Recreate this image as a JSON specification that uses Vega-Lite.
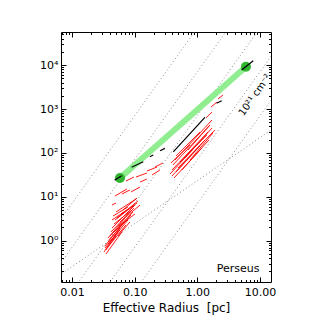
{
  "$schema": "https://vega.github.io/schema/vega-lite/v6.json",
  "width": 210,
  "height": 250,
  "autosize": {"type": "none"},
  "padding": {"left": 61, "top": 32, "right": 54, "bottom": 43},
  "background": "white",
  "config": {
    "view": {"stroke": "#000000", "strokeWidth": 1},
    "font": "DejaVu Sans",
    "axis": {"domain": false, "grid": false, "tickColor": "#000000", "tickWidth": 1, "labelColor": "#000000", "labelFont": "DejaVu Sans", "labelFontSize": 11, "titleFont": "DejaVu Sans", "titleFontSize": 12, "titleFontWeight": "normal", "titleColor": "#000000"}
  },
  "datasets": {
    "grid": [
      {"id": "N24", "r": 0.005, "m": 1.76}, {"id": "N24", "r": 20, "m": 28200000},
      {"id": "N23", "r": 0.005, "m": 0.176}, {"id": "N23", "r": 20, "m": 2820000},
      {"id": "N22", "r": 0.005, "m": 0.0176}, {"id": "N22", "r": 20, "m": 282000},
      {"id": "N21", "r": 0.005, "m": 0.00176}, {"id": "N21", "r": 20, "m": 28200},
      {"id": "N20", "r": 0.005, "m": 0.000176}, {"id": "N20", "r": 20, "m": 2820},
      {"id": "S1", "r": 0.005, "m": 0.13}, {"id": "S1", "r": 20, "m": 440}
    ],
    "red": [
      {"id": "R1", "r": 0.394, "m": 29.8}, {"id": "R1", "r": 1.32, "m": 197},
      {"id": "R2", "r": 0.394, "m": 40.7}, {"id": "R2", "r": 1.48, "m": 299},
      {"id": "R3", "r": 0.408, "m": 53.0}, {"id": "R3", "r": 1.59, "m": 432},
      {"id": "R4", "r": 0.440, "m": 68.9}, {"id": "R4", "r": 1.71, "m": 561},
      {"id": "R5", "r": 0.456, "m": 36.7}, {"id": "R5", "r": 1.10, "m": 144},
      {"id": "R6", "r": 0.491, "m": 45.3}, {"id": "R6", "r": 1.91, "m": 333},
      {"id": "R7", "r": 0.527, "m": 62.1}, {"id": "R7", "r": 1.42, "m": 256},
      {"id": "R8", "r": 0.634, "m": 76.5}, {"id": "R8", "r": 1.71, "m": 369},
      {"id": "R9", "r": 0.379, "m": 58.9}, {"id": "R9", "r": 0.762, "m": 151},
      {"id": "R10", "r": 0.708, "m": 116}, {"id": "R10", "r": 1.59, "m": 432},
      {"id": "R11", "r": 0.366, "m": 33.0}, {"id": "R11", "r": 0.951, "m": 144},
      {"id": "R12", "r": 0.424, "m": 26.8}, {"id": "R12", "r": 1.18, "m": 129},
      {"id": "R13", "r": 0.567, "m": 40.7}, {"id": "R13", "r": 1.53, "m": 197},
      {"id": "R14", "r": 0.762, "m": 68.9}, {"id": "R14", "r": 1.77, "m": 284},
      {"id": "R15", "r": 0.456, "m": 85.0}, {"id": "R15", "r": 1.10, "m": 299},
      {"id": "U1", "r": 1.37, "m": 624}, {"id": "U1", "r": 1.71, "m": 855},
      {"id": "U2", "r": 1.65, "m": 1110}, {"id": "U2", "r": 2.06, "m": 1440},
      {"id": "U3", "r": 2.13, "m": 1690}, {"id": "U3", "r": 2.56, "m": 2080},
      {"id": "U4", "r": 2.75, "m": 3010}, {"id": "U4", "r": 3.44, "m": 4120},
      {"id": "U5", "r": 3.56, "m": 5080}, {"id": "U5", "r": 4.29, "m": 6270},
      {"id": "S1", "r": 0.157, "m": 38.7}, {"id": "S1", "r": 0.227, "m": 47.7},
      {"id": "S2", "r": 0.211, "m": 47.7}, {"id": "S2", "r": 0.282, "m": 58.9},
      {"id": "S3", "r": 0.189, "m": 31.4}, {"id": "S3", "r": 0.253, "m": 40.7},
      {"id": "S4", "r": 0.105, "m": 28.2}, {"id": "S4", "r": 0.157, "m": 34.8},
      {"id": "S5", "r": 0.0726, "m": 22.9}, {"id": "S5", "r": 0.0975, "m": 28.2},
      {"id": "S6", "r": 0.0873, "m": 12.9}, {"id": "S6", "r": 0.122, "m": 16.7},
      {"id": "S7", "r": 0.0485, "m": 10.4}, {"id": "S7", "r": 0.0753, "m": 15.1},
      {"id": "S8", "r": 0.0627, "m": 11.6}, {"id": "S8", "r": 0.0841, "m": 14.3},
      {"id": "S9", "r": 0.0435, "m": 6.50}, {"id": "S9", "r": 0.0504, "m": 7.23},
      {"id": "S10", "r": 0.122, "m": 21.7}, {"id": "S10", "r": 0.157, "m": 25.4},
      {"id": "L1", "r": 0.0348, "m": 0.498}, {"id": "L1", "r": 0.0627, "m": 1.58},
      {"id": "L2", "r": 0.0361, "m": 0.682}, {"id": "L2", "r": 0.0726, "m": 2.28},
      {"id": "L3", "r": 0.0375, "m": 0.841}, {"id": "L3", "r": 0.0782, "m": 2.96},
      {"id": "L4", "r": 0.0389, "m": 1.04}, {"id": "L4", "r": 0.0873, "m": 3.85},
      {"id": "L5", "r": 0.0404, "m": 1.28}, {"id": "L5", "r": 0.0940, "m": 4.51},
      {"id": "L6", "r": 0.0419, "m": 1.58}, {"id": "L6", "r": 0.0975, "m": 5.56},
      {"id": "L7", "r": 0.0435, "m": 1.95}, {"id": "L7", "r": 0.101, "m": 6.50},
      {"id": "L8", "r": 0.0468, "m": 2.40}, {"id": "L8", "r": 0.0906, "m": 5.00},
      {"id": "L9", "r": 0.0485, "m": 2.96}, {"id": "L9", "r": 0.109, "m": 7.23},
      {"id": "L10", "r": 0.0451, "m": 3.65}, {"id": "L10", "r": 0.0782, "m": 5.86},
      {"id": "L11", "r": 0.0504, "m": 4.51}, {"id": "L11", "r": 0.105, "m": 8.91},
      {"id": "L12", "r": 0.0542, "m": 1.28}, {"id": "L12", "r": 0.0841, "m": 2.67},
      {"id": "L13", "r": 0.0562, "m": 2.16}, {"id": "L13", "r": 0.101, "m": 4.06},
      {"id": "L14", "r": 0.0324, "m": 0.553}, {"id": "L14", "r": 0.0583, "m": 1.95},
      {"id": "L15", "r": 0.0336, "m": 0.682}, {"id": "L15", "r": 0.0542, "m": 1.58},
      {"id": "L16", "r": 0.0336, "m": 0.757}, {"id": "L16", "r": 0.0675, "m": 2.67},
      {"id": "L17", "r": 0.0375, "m": 1.15}, {"id": "L17", "r": 0.070, "m": 3.29},
      {"id": "L18", "r": 0.0404, "m": 0.934}, {"id": "L18", "r": 0.0583, "m": 1.75},
      {"id": "L19", "r": 0.0522, "m": 3.29}, {"id": "L19", "r": 0.113, "m": 8.02},
      {"id": "L20", "r": 0.0583, "m": 2.67}, {"id": "L20", "r": 0.122, "m": 6.50},
      {"id": "L21", "r": 0.0604, "m": 4.06}, {"id": "L21", "r": 0.094, "m": 6.17},
      {"id": "L22", "r": 0.0435, "m": 2.96}, {"id": "L22", "r": 0.0675, "m": 4.51},
      {"id": "L23", "r": 0.0348, "m": 0.614}, {"id": "L23", "r": 0.0504, "m": 1.28},
      {"id": "L24", "r": 0.0468, "m": 1.58}, {"id": "L24", "r": 0.0811, "m": 3.29},
      {"id": "L25", "r": 0.065, "m": 5.00}, {"id": "L25", "r": 0.109, "m": 9.39}
    ],
    "green": [
      {"r": 0.0583, "m": 26.8}, {"r": 5.96, "m": 9190}
    ],
    "black": [
      {"id": "B1", "r": 0.048, "m": 24}, {"id": "B1", "r": 0.062, "m": 30},
      {"id": "B2", "r": 0.0895, "m": 47}, {"id": "B2", "r": 0.137, "m": 63},
      {"id": "B3", "r": 0.175, "m": 81.9}, {"id": "B3", "r": 0.198, "m": 89.6},
      {"id": "B4", "r": 0.254, "m": 112}, {"id": "B4", "r": 0.304, "m": 127},
      {"id": "B5", "r": 0.413, "m": 106}, {"id": "B5", "r": 1.32, "m": 647},
      {"id": "B6", "r": 2.03, "m": 1349}, {"id": "B6", "r": 2.44, "m": 1545},
      {"id": "B7", "r": 5.09, "m": 7730}, {"id": "B7", "r": 7.8, "m": 12600}
    ],
    "cloud": [{"text": "Perseus", "r": 9.77, "m": 0.194}],
    "nlabel": [{"text": "10²¹ cm⁻²", "r": 8.3, "m": 2084}]
  },
  "layer": [
    {
      "data": {"name": "grid"},
      "mark": {"type": "line", "clip": true, "color": "#8c8c8c", "strokeWidth": 1, "strokeDash": [1, 2.5]},
      "encoding": {
        "x": {"field": "r", "type": "quantitative", "scale": {"type": "log", "domain": [0.00668, 14.96], "nice": false},
              "axis": {"orient": "bottom", "values": [0.01, 0.1, 1, 10], "format": ".2f", "tickSize": -5, "labelPadding": 9, "title": "Effective Radius\u00a0\u00a0[pc]", "titlePadding": 5}},
        "y": {"field": "m", "type": "quantitative", "scale": {"type": "log", "domain": [0.1146, 56800], "nice": false},
              "axis": {"orient": "left", "values": [1, 10, 100, 1000, 10000], "labelExpr": "datum.value == 1 ? '10⁰' : datum.value == 10 ? '10¹' : datum.value == 100 ? '10²' : datum.value == 1000 ? '10³' : '10⁴'", "tickSize": -5, "labelPadding": 8, "title": null}},
        "detail": {"field": "id"}
      }
    },
    {
      "data": {"name": "red"},
      "mark": {"type": "line", "clip": true, "color": "#ff0000", "strokeWidth": 0.9},
      "encoding": {
        "x": {"field": "r", "type": "quantitative", "scale": {"type": "log", "domain": [0.00668, 14.96], "nice": false},
              "axis": {"orient": "bottom", "values": [0.007, 0.008, 0.009, 0.02, 0.03, 0.04, 0.05, 0.06, 0.07, 0.08, 0.09, 0.2, 0.3, 0.4, 0.5, 0.6, 0.7, 0.8, 0.9, 2, 3, 4, 5, 6, 7, 8, 9], "labels": false, "tickSize": -2.5, "title": null}},
        "y": {"field": "m", "type": "quantitative", "scale": {"type": "log", "domain": [0.1146, 56800], "nice": false},
              "axis": {"orient": "left", "values": [0.2, 0.3, 0.4, 0.5, 0.6, 0.7, 0.8, 0.9, 2, 3, 4, 5, 6, 7, 8, 9, 20, 30, 40, 50, 60, 70, 80, 90, 200, 300, 400, 500, 600, 700, 800, 900, 2000, 3000, 4000, 5000, 6000, 7000, 8000, 9000, 20000, 30000, 40000, 50000], "labels": false, "tickSize": -2.5, "title": null}},
        "detail": {"field": "id"}
      }
    },
    {
      "data": {"name": "green"},
      "mark": {"type": "line", "clip": true, "color": "#90ee90", "strokeWidth": 6},
      "encoding": {
        "x": {"field": "r", "type": "quantitative", "scale": {"type": "log", "domain": [0.00668, 14.96], "nice": false},
              "axis": {"orient": "top", "values": [0.01, 0.1, 1, 10], "labels": false, "tickSize": -5, "title": null}},
        "y": {"field": "m", "type": "quantitative", "scale": {"type": "log", "domain": [0.1146, 56800], "nice": false},
              "axis": {"orient": "right", "values": [1, 10, 100, 1000, 10000], "labels": false, "tickSize": -5, "title": null}}
      }
    },
    {
      "data": {"name": "green"},
      "mark": {"type": "point", "filled": true, "color": "#2fb52f", "opacity": 1, "size": 100},
      "encoding": {
        "x": {"field": "r", "type": "quantitative", "scale": {"type": "log", "domain": [0.00668, 14.96], "nice": false},
              "axis": {"orient": "top", "values": [0.007, 0.008, 0.009, 0.02, 0.03, 0.04, 0.05, 0.06, 0.07, 0.08, 0.09, 0.2, 0.3, 0.4, 0.5, 0.6, 0.7, 0.8, 0.9, 2, 3, 4, 5, 6, 7, 8, 9], "labels": false, "tickSize": -2.5, "title": null}},
        "y": {"field": "m", "type": "quantitative", "scale": {"type": "log", "domain": [0.1146, 56800], "nice": false},
              "axis": {"orient": "right", "values": [0.2, 0.3, 0.4, 0.5, 0.6, 0.7, 0.8, 0.9, 2, 3, 4, 5, 6, 7, 8, 9, 20, 30, 40, 50, 60, 70, 80, 90, 200, 300, 400, 500, 600, 700, 800, 900, 2000, 3000, 4000, 5000, 6000, 7000, 8000, 9000, 20000, 30000, 40000, 50000], "labels": false, "tickSize": -2.5, "title": null}}
      }
    },
    {
      "data": {"name": "black"},
      "mark": {"type": "line", "clip": true, "color": "#000000", "strokeWidth": 1.2},
      "encoding": {
        "x": {"field": "r", "type": "quantitative", "scale": {"type": "log", "domain": [0.00668, 14.96], "nice": false}, "axis": null},
        "y": {"field": "m", "type": "quantitative", "scale": {"type": "log", "domain": [0.1146, 56800], "nice": false}, "axis": null},
        "detail": {"field": "id"}
      }
    },
    {
      "data": {"name": "cloud"},
      "mark": {"type": "text", "align": "right", "baseline": "alphabetic", "font": "DejaVu Sans", "fontSize": 11, "color": "#000000"},
      "encoding": {
        "x": {"field": "r", "type": "quantitative", "scale": {"type": "log", "domain": [0.00668, 14.96], "nice": false}, "axis": null},
        "y": {"field": "m", "type": "quantitative", "scale": {"type": "log", "domain": [0.1146, 56800], "nice": false}, "axis": null},
        "text": {"field": "text"}
      }
    },
    {
      "data": {"name": "nlabel"},
      "mark": {"type": "text", "align": "center", "baseline": "middle", "angle": 305, "font": "DejaVu Sans", "fontSize": 10, "color": "#000000"},
      "encoding": {
        "x": {"field": "r", "type": "quantitative", "scale": {"type": "log", "domain": [0.00668, 14.96], "nice": false}, "axis": null},
        "y": {"field": "m", "type": "quantitative", "scale": {"type": "log", "domain": [0.1146, 56800], "nice": false}, "axis": null},
        "text": {"field": "text"}
      }
    }
  ],
  "resolve": {"axis": {"x": "independent", "y": "independent"}}
}
